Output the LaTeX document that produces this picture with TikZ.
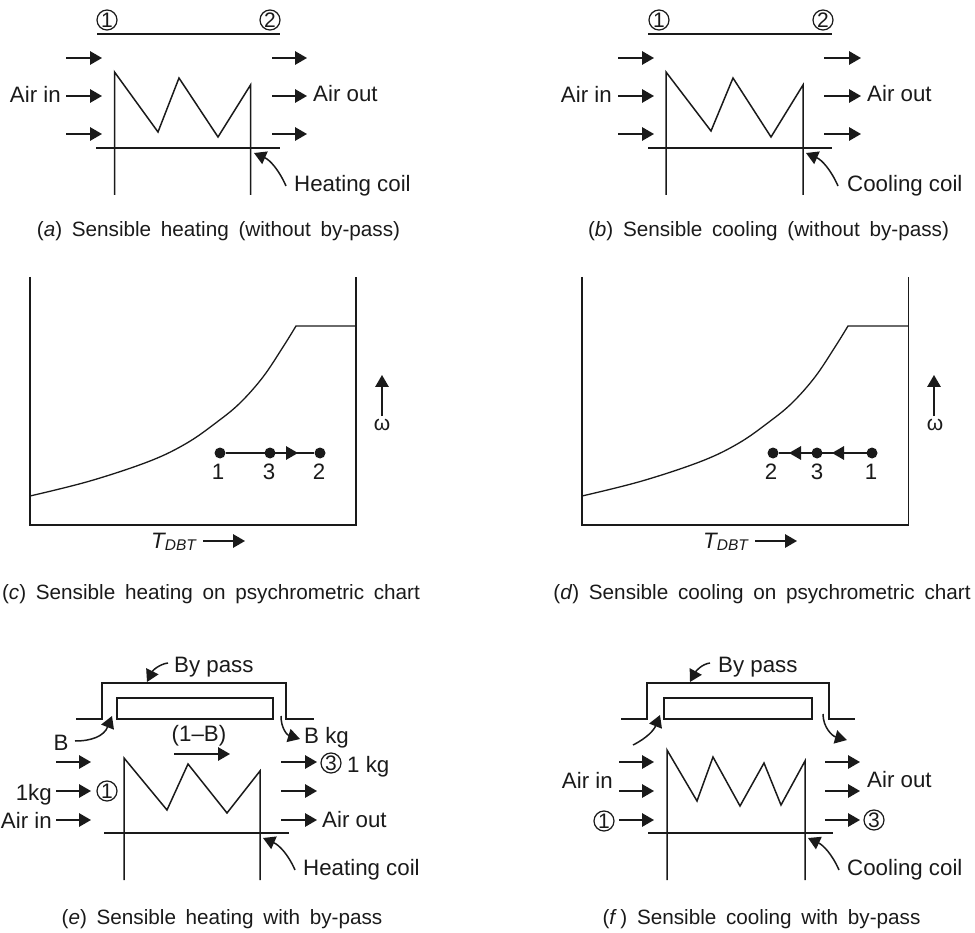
\documentclass[tikz,border=0pt]{standalone}
\usepackage{fontspec}
\setmainfont{Liberation Sans}
\usetikzlibrary{arrows.meta}
\definecolor{ink}{HTML}{1A1A1A}
\newcommand{\capwords}[1]{\spaceskip 9.7pt\relax #1}
\tikzset{
  x=1pt,y=-1pt,
  ln/.style={draw=ink,line width=1.5pt,line join=miter},
  thin ln/.style={draw=ink,line width=1.3pt},
  arr/.style={draw=ink,line width=1.5pt,-{Triangle[length=12pt,width=13.5pt,fill=ink]}},
  lbl/.style={text=ink,font=\fontsize{22.3}{24}\selectfont,inner sep=0pt},
  captxt/.style={text=ink,font=\fontsize{20.7}{24}\selectfont,inner sep=0pt},
  circ/.style={circle,draw=ink,line width=1.2pt,minimum size=20pt,inner sep=0pt,text=ink,font=\fontsize{21}{20}\selectfont},
  dot/.style={circle,fill=ink,minimum size=11pt,inner sep=0pt}
}
\newcommand{\harr}[3]{\draw[arr] (#1,#3) -- (#2,#3);}
\begin{document}
\begin{tikzpicture}
\useasboundingbox (0,0) rectangle (975,933);
% ---------- (a)
\draw[ln] (97,34) -- (280,34);
\node[circ] (a1) at (107,20) {1};
\node[circ] (a2) at (270,20) {2};
\foreach \y in {58,96,134} {\harr{66}{102}{\y}\harr{272}{307}{\y}}
\draw[ln] (114.5,195) -- (114.5,72) -- (158,132) -- (179,78) -- (218,137) -- (250.5,85) -- (250.5,195);
\draw[ln] (96,148) -- (280,148);
\node[lbl,anchor=east] (ain) at (61,94) {Air in};
\node[lbl,anchor=west] (aout) at (313,94) {Air out};
\node[lbl,anchor=west] (acoil) at (294,186) {Heating coil};
\draw[arr] (286,186) .. controls (279,170) and (270,160) .. (254,153);
\node[captxt] (acap) at (218.5,231) {\capwords{(\textit{a}) Sensible heating (without by-pass)}};
% ---------- (b)
\draw[ln] (648,34) -- (832,34);
\node[circ] (b1) at (659,20) {1};
\node[circ] (b2) at (823,20) {2};
\foreach \y in {58,96,134} {\harr{618}{654}{\y}\harr{824}{861}{\y}}
\draw[ln] (666,195) -- (666,72) -- (711,131) -- (733,78) -- (771,137) -- (803,85) -- (803,195);
\draw[ln] (648,148) -- (832,148);
\node[lbl,anchor=east] (bin) at (612,94) {Air in};
\node[lbl,anchor=west] (bout) at (867,94) {Air out};
\node[lbl,anchor=west] (bcoil) at (847,186) {Cooling coil};
\draw[arr] (838,186) .. controls (831,170) and (822,160) .. (806,153);
\node[captxt] (bcap) at (768.5,231) {\capwords{(\textit{b}) Sensible cooling (without by-pass)}};
% ---------- (c)
\draw[ln] (30,277) -- (30,525) -- (356,525) -- (356,277);
\draw[thin ln] plot[smooth,tension=0.6] coordinates {(30,496) (90,481) (150,461) (187,443) (217,422) (240,403) (263,377) (283,347) (296,326)} -- (356,326);
\node[dot] (c1) at (220,453) {};
\node[dot] (c3) at (270,453) {};
\node[dot] (c2) at (320,453) {};
\draw[ln] (c1) -- (c2);
\draw[arr] (270,453) -- (298,453);
\node[lbl] (cl1) at (218,471.5) {1};
\node[lbl] (cl3) at (269,471.5) {3};
\node[lbl] (cl2) at (319,471.5) {2};
\node[lbl,anchor=west] (ct) at (151,542) {\textit{T\fontsize{15.5}{15}\selectfont\raisebox{-2.5pt}{DBT}}};
\harr{203}{245}{541}
\draw[arr] (382,416) -- (382,375);
\node[lbl] (cw) at (382,425) {\fontsize{21}{17}\selectfont ω};
\node[captxt] (ccap) at (211,594) {\capwords{(\textit{c}) Sensible heating on psychrometric chart}};
% ---------- (d)
\draw[ln] (582,277) -- (582,525) -- (908.5,525) -- (908.5,277);
\draw[thin ln] plot[smooth,tension=0.6] coordinates {(582,496) (642,481) (702,461) (739,443) (769,422) (792,403) (815,377) (835,347) (848,326)} -- (908.5,326);
\node[dot] (d2) at (773,453) {};
\node[dot] (d3) at (817,453) {};
\node[dot] (d1) at (872,453) {};
\draw[ln] (d1) -- (d2);
\draw[arr] (817,453) -- (789,453);
\draw[arr] (872,453) -- (832,453);
\node[lbl] (dl2) at (771,471.5) {2};
\node[lbl] (dl3) at (817,471.5) {3};
\node[lbl] (dl1) at (871,471.5) {1};
\node[lbl,anchor=west] (dt) at (703,542) {\textit{T\fontsize{15.5}{15}\selectfont\raisebox{-2.5pt}{DBT}}};
\harr{755}{797}{541}
\draw[arr] (934,416) -- (934,375);
\node[lbl] (dw) at (935,425) {\fontsize{21}{17}\selectfont ω};
\node[captxt] (dcap) at (762,594) {\capwords{(\textit{d}) Sensible cooling on psychrometric chart}};
% ---------- (e)
\draw[ln] (76,719) -- (102,719) -- (102,683) -- (286,683) -- (286,719) -- (314,719);
\draw[ln] (117,698) rectangle (273,719);
\node[lbl,anchor=west] (ebp) at (174,667) {By pass};
\draw[arr] (168,663) .. controls (160,664) and (153,670) .. (147,682);
\node[lbl] (eb) at (61,743) {B};
\draw[arr] (75,741) .. controls (92,741) and (104,736) .. (112,716);
\draw[arr] (281,716) .. controls (281,728) and (287,735) .. (300,739);
\node[lbl,anchor=west] (ebkg) at (304,738) {B kg};
\node[lbl] (e1b) at (199,736) {(1–B)};
\harr{174}{230}{754}
\foreach \y in {762,791,820} {\harr{56}{91}{\y}\harr{281}{317}{\y}}
\draw[ln] (124,880) -- (124,758) -- (167,810) -- (188,764) -- (227,813) -- (260,771) -- (260,880);
\draw[ln] (104,833) -- (289,833);
\node[lbl,anchor=east] (e1kg) at (52,795) {1kg};
\node[lbl,anchor=east] (ein) at (52,820) {Air in};
\node[circ] (e1) at (107,791) {1};
\node[circ] (e3) at (331,763) {3};
\node[lbl,anchor=west] (e1k) at (347,767) {1 kg};
\node[lbl,anchor=west] (eout) at (322,820) {Air out};
\node[lbl,anchor=west] (ecoil) at (303,870) {Heating coil};
\draw[arr] (295,870) .. controls (288,854) and (279,845) .. (263,838);
\node[captxt] (ecap) at (222,919) {\capwords{(\textit{e}) Sensible heating with by-pass}};
% ---------- (f)
\draw[ln] (621,719) -- (647,719) -- (647,683) -- (829,683) -- (829,719) -- (855,719);
\draw[ln] (664,698) rectangle (812,719);
\node[lbl,anchor=west] (fbp) at (718,667) {By pass};
\draw[arr] (710,663) .. controls (702,664) and (696,671) .. (690,682);
\draw[arr] (633,745) .. controls (647,738) and (654,730) .. (660,715);
\draw[arr] (823,714) .. controls (823,727) and (832,736) .. (847,740);
\foreach \y in {762,791,820} {\harr{619}{654}{\y}\harr{825}{860}{\y}}
\draw[ln] (667,880) -- (667,750) -- (697,801) -- (713,757) -- (740,806) -- (764,763) -- (781,805) -- (805,761) -- (805,880);
\draw[ln] (648,833) -- (833,833);
\node[lbl,anchor=east] (fin) at (613,780) {Air in};
\node[lbl,anchor=west] (fout) at (867,780) {Air out};
\node[circ] (f1) at (604,821) {1};
\node[circ] (f3) at (874,820) {3};
\node[lbl,anchor=west] (fcoil) at (847,870) {Cooling coil};
\draw[arr] (839,870) .. controls (832,854) and (823,845) .. (808,838);
\node[captxt] (fcap) at (761.5,919) {\capwords{(\textit{f}\,) Sensible cooling with by-pass}};
\end{tikzpicture}
\end{document}
